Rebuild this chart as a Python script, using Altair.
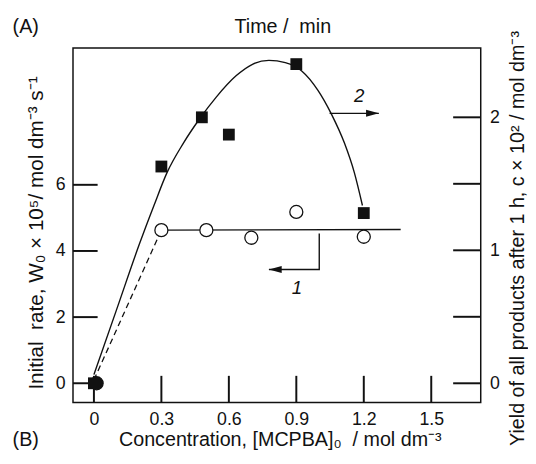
import altair as alt
import pandas as pd

# ---- data ----
# curve 1 (left axis): initial rate W0 x 10^5, open circles
c1_conc = [0.012, 0.3, 0.5, 0.7, 0.9, 1.2]
c1_rate = [0.0, 4.63, 4.63, 4.40, 5.18, 4.43]
# curve 2 (right axis): yield c x 10^2, filled squares
c2_conc = [0.0, 0.3, 0.48, 0.6, 0.9, 1.2]
c2_yield = [0.0, 1.63, 2.0, 1.87, 2.40, 1.28]
# drawn fit through curve 2
fit2_conc = [0.0, 0.1, 0.201, 0.267, 0.325, 0.398, 0.471, 0.544, 0.632, 0.705,
             0.778, 0.851, 0.924, 0.997, 1.055, 1.114, 1.158, 1.194]
fit2_yield = [0.065, 0.55, 1.041, 1.337, 1.584, 1.806, 1.991, 2.152, 2.312, 2.399,
              2.428, 2.411, 2.349, 2.201, 2.028, 1.806, 1.584, 1.337]
# plateau line and dashed initial segment of curve 1
plateau_conc = [0.3, 1.364]
plateau_rate = [4.63, 4.65]
dash_conc = [0.0, 0.3]
dash_rate = [0.1, 4.63]
# arrows and their labels
arrow2_conc = [1.048, 1.267]
arrow2_yield = [2.03, 2.03]
arrow1_conc = [1.002, 1.002, 0.778]
arrow1_rate = [4.53, 3.44, 3.44]
label1 = {"x": [0.903], "y": [2.89], "t": ["1"]}
label2 = {"x": [1.18], "y": [2.16], "t": ["2"]}
# ticks
x_ticks = [0, 0.3, 0.6, 0.9, 1.2, 1.5]
left_ticks = [0, 2, 4, 6]
right_ticks = [0, 0.5, 1, 1.5, 2]
right_labels = [0, 1, 2]

NB = "\u00a0"
W, H = 414, 360
FONT = "Liberation Sans"
INK = "#111111"

xs = alt.Scale(domain=[-0.093, 1.72], nice=False, zero=False)
yl = alt.Scale(domain=[-0.58, 10.14], nice=False, zero=False)
yr = alt.Scale(domain=[-0.144, 2.522], nice=False, zero=False)

x_axis = alt.Axis(values=x_ticks,
                  labelExpr="datum.value == 0 ? '0' : format(datum.value, '.1f')",
                  ticks=False, tickSize=0, domain=False, grid=False, labelPadding=8,
                  title="Concentration, [MCPBA]₀" + NB + NB + "/ mol dm⁻³",
                  titleFontSize=20,
                  titleX=210, titleY=44, titleBaseline="alphabetic", titleAlign="center")
yl_axis = alt.Axis(orient="left", values=left_ticks, ticks=False, tickSize=0, domain=False,
                   grid=False, labelPadding=8,
                   title="Initial" + NB + NB + "rate, W₀ × 10⁵/ mol dm⁻³ s⁻¹",
                   titleFontSize=21,
                   titleAngle=270, titleX=-30.5, titleY=187.5, titleAlign="center",
                   titleBaseline="alphabetic")
yr_axis = alt.Axis(orient="right", values=right_labels, ticks=False, tickSize=0, domain=False,
                   grid=False, labelPadding=9,
                   title="Yield of all products after 1 h, c × 10² / mol dm⁻³",
                   titleFontSize=20,
                   titleAngle=270, titleX=43, titleY=193, titleAlign="center",
                   titleBaseline="alphabetic")


def X():
    return alt.X("x:Q", scale=xs, axis=x_axis)


def YL():
    return alt.Y("y:Q", scale=yl, axis=yl_axis)


def YR():
    return alt.Y("y:Q", scale=yr, axis=yr_axis)


df_c1 = pd.DataFrame({"x": c1_conc, "y": c1_rate})
df_c2 = pd.DataFrame({"x": c2_conc, "y": c2_yield})
df_fit2 = pd.DataFrame({"x": fit2_conc, "y": fit2_yield})
df_plat = pd.DataFrame({"x": plateau_conc, "y": plateau_rate})
df_dash = pd.DataFrame({"x": dash_conc, "y": dash_rate})
df_a2 = pd.DataFrame({"x": arrow2_conc, "y": arrow2_yield})
df_a1 = pd.DataFrame({"x": arrow1_conc, "y": arrow1_rate, "o": list(range(len(arrow1_conc)))})

# ---- left-axis group ----
xtick_layer = alt.Chart(pd.DataFrame({"x": x_ticks})).mark_rule(color=INK, strokeWidth=2).encode(
    x=X(), y=alt.value(H), y2=alt.value(H - 27))
ltick_layer = alt.Chart(pd.DataFrame({"y": left_ticks})).mark_rule(color=INK, strokeWidth=2).encode(
    y=YL(), x=alt.value(0), x2=alt.value(25))
plateau = alt.Chart(df_plat).mark_line(color=INK, strokeWidth=1.4).encode(x=X(), y=YL())
dashed = alt.Chart(df_dash).mark_line(color=INK, strokeWidth=1.3, strokeDash=[6, 4]).encode(x=X(), y=YL())
arrow1 = alt.Chart(df_a1).mark_line(color=INK, strokeWidth=1.4).encode(
    x=X(), y=YL(), order=alt.Order("o:Q"))
arrow1_head = alt.Chart(df_a1.tail(1)).mark_point(
    shape="M0,0L2,-0.55L2,0.55Z", filled=True, size=169, color=INK, opacity=1).encode(x=X(), y=YL())
circles = alt.Chart(df_c1).mark_point(shape="circle", size=175, strokeWidth=1.3, color=INK,
                                      opacity=1).encode(
    x=X(), y=YL(),
    fill=alt.condition("datum.x < 0.05", alt.value(INK), alt.value("white")))
lab1 = alt.Chart(pd.DataFrame(label1)).mark_text(
    font=FONT, fontSize=19, fontStyle="italic", color=INK).encode(x=X(), y=YL(), text="t:N")
txt_A = alt.Chart(pd.DataFrame({"t": ["(A)"]})).mark_text(
    font=FONT, fontSize=20, color=INK, baseline="middle").encode(
    x=alt.value(-48), y=alt.value(-21), text="t:N")
txt_time = alt.Chart(pd.DataFrame({"t": ["Time /" + NB + NB + "min"]})).mark_text(
    font=FONT, fontSize=20, color=INK, baseline="middle").encode(
    x=alt.value(213), y=alt.value(-21), text="t:N")
txt_B = alt.Chart(pd.DataFrame({"t": ["(B)"]})).mark_text(
    font=FONT, fontSize=20, color=INK, baseline="middle").encode(
    x=alt.value(-48), y=alt.value(398), text="t:N")

left_group = alt.layer(xtick_layer, ltick_layer, plateau, dashed, arrow1, arrow1_head,
                       circles, lab1, txt_A, txt_time, txt_B)

# ---- right-axis group ----
rtick_layer = alt.Chart(pd.DataFrame({"y": right_ticks})).mark_rule(color=INK, strokeWidth=2).encode(
    y=YR(), x=alt.value(W - 28), x2=alt.value(W))
fit2 = alt.Chart(df_fit2).mark_line(color=INK, strokeWidth=1.4, interpolate="monotone").encode(
    x=X(), y=YR())
arrow2 = alt.Chart(df_a2).mark_line(color=INK, strokeWidth=1.4).encode(x=X(), y=YR())
arrow2_head = alt.Chart(df_a2.tail(1)).mark_point(
    shape="M0,0L-2,-0.55L-2,0.55Z", filled=True, size=169, color=INK, opacity=1).encode(x=X(), y=YR())
squares = alt.Chart(df_c2).mark_point(shape="square", filled=True, size=144, color=INK,
                                      opacity=1).encode(x=X(), y=YR())
lab2 = alt.Chart(pd.DataFrame(label2)).mark_text(
    font=FONT, fontSize=19, fontStyle="italic", color=INK).encode(x=X(), y=YR(), text="t:N")

right_group = alt.layer(rtick_layer, fit2, arrow2, arrow2_head, squares, lab2)

chart = alt.layer(left_group, right_group).resolve_scale(y="independent").properties(
    width=W, height=H,
    autosize=alt.AutoSizeParams(type="none"),
    padding={"left": 66, "top": 37, "right": 48, "bottom": 59},
).configure_view(stroke=INK, strokeWidth=1.5).configure_axis(
    labelFont=FONT, labelFontSize=18, labelColor=INK,
    titleFont=FONT, titleFontSize=19, titleColor=INK, titleFontWeight="normal",
)

chart.save("out.html", embed_options={"renderer": "svg", "actions": False})
